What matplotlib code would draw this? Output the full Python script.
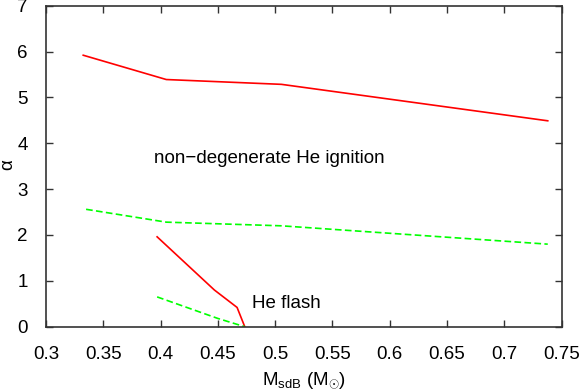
import matplotlib as mpl
mpl.use('Agg')
import matplotlib.pyplot as plt
import numpy as np

red = '#FF0000'
green = '#00FF00'

# upper branch: non-degenerate He ignition
m_upper = [0.3325, 0.405, 0.5055, 0.738]
alpha_upper_red = [5.92, 5.39, 5.285, 4.49]
m_upper_g = [0.335, 0.405, 0.5055, 0.738]
alpha_upper_green = [2.56, 2.28, 2.20, 1.80]

# lower branch: He flash
m_lower = [0.397, 0.447, 0.4668, 0.4735]
alpha_lower_red = [1.96, 0.80, 0.42, 0.0]
m_lower_g = [0.397, 0.45, 0.4735]
alpha_lower_green = [0.65, 0.18, 0.0]

xticks = [0.3, 0.35, 0.4, 0.45, 0.5, 0.55, 0.6, 0.65, 0.7, 0.75]
xticklabels = ['0.3', '0.35', '0.4', '0.45', '0.5', '0.55', '0.6', '0.65', '0.7', '0.75']
yticks = [0, 1, 2, 3, 4, 5, 6, 7]

fs = 13.5
plt.rcParams['font.family'] = ['Liberation Sans', 'DejaVu Sans']
plt.rcParams['mathtext.fontset'] = 'custom'
plt.rcParams['mathtext.rm'] = 'Liberation Sans'
plt.rcParams['mathtext.it'] = 'Liberation Sans:italic'

fig = plt.figure(figsize=(5.82, 3.92), dpi=100)
ax = fig.add_axes([46 / 582, 1 - 326.7 / 392, (561.5 - 46) / 582, (326.7 - 5.7) / 392])

ax.plot(m_upper, alpha_upper_red, color=red, lw=1.2)
ax.plot(m_upper_g, alpha_upper_green, color=green, lw=1.2, dashes=(4, 2))
ax.plot(m_lower, alpha_lower_red, color=red, lw=1.2)
ax.plot(m_lower_g, alpha_lower_green, color=green, lw=1.2, dashes=(4, 2))

ax.text(0.3940, 3.67, 'non\u2212degenerate He ignition', fontsize=fs, va='center', ha='left')
ax.text(0.4795, 0.50, 'He flash', fontsize=fs, va='center', ha='left')

ax.set_xlim(0.3, 0.75)
ax.set_ylim(0, 7)
ax.set_xticks(xticks)
ax.set_xticklabels(xticklabels)
ax.set_yticks(yticks)
ax.tick_params(direction='in', top=True, right=True, length=5, width=1,
               labelsize=fs, color='#333333')
ax.tick_params(axis='x', pad=14)
ax.tick_params(axis='y', pad=13)
for s in ax.spines.values():
    s.set_linewidth(1.2)
    s.set_color('#333333')

ax.set_xlabel(r'M$_{\rm sdB}$ (M$_{\odot}$)', fontsize=fs)
ax.xaxis.set_label_coords(0.5, -(381 - 326.7) / 321.0)
ax.xaxis.label.set_va('center')
ax.set_ylabel('\u03b1', fontsize=fs)
ax.yaxis.set_label_coords(-(46 - 8) / 515.5, 1 - (165 - 5.7) / 321.0)
ax.yaxis.label.set_va('center')

fig.savefig('out.png', dpi=100)
